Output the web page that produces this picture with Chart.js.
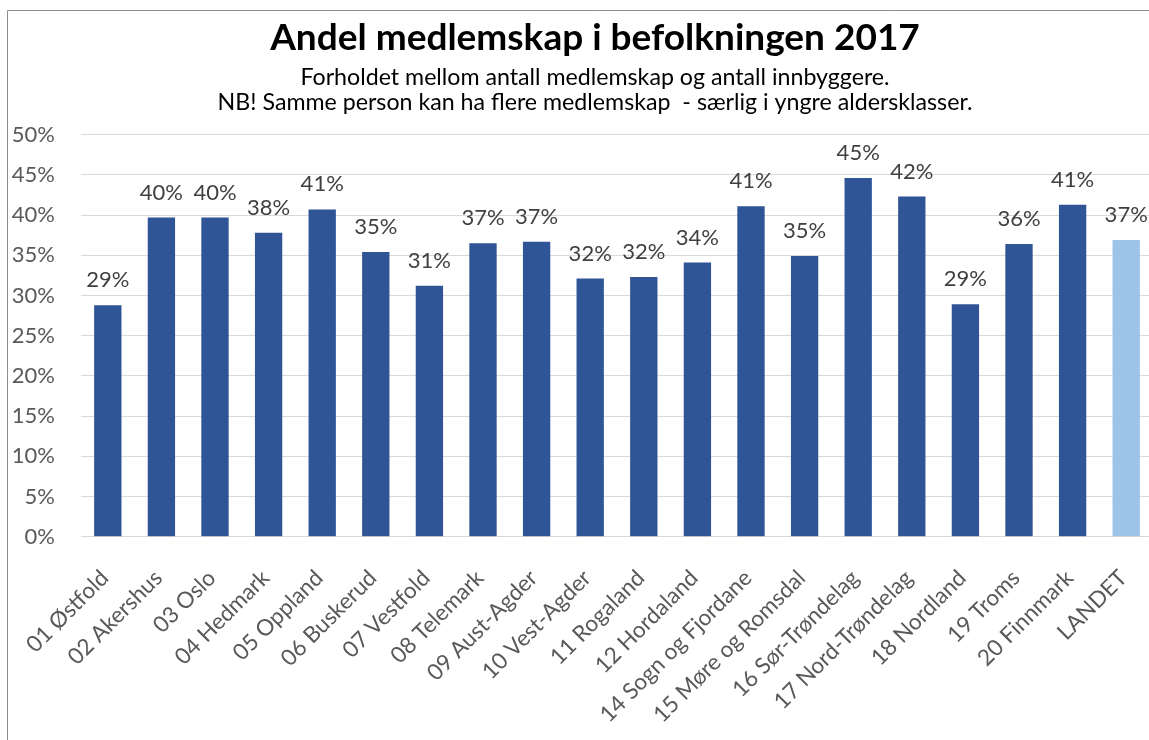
<!DOCTYPE html>
<html><head><meta charset="utf-8">
<script src="https://cdn.jsdelivr.net/npm/chart.js@4.4.1/dist/chart.umd.min.js"></script>
<style>
html,body{margin:0;padding:0;overflow:hidden;background:#fff}
#wrap{position:relative;width:1190px;height:740px}
</style>
</head><body>
<div id="wrap"><canvas id="c"></canvas></div>
<script>
const categories = ["01 Østfold","02 Akershus","03 Oslo","04 Hedmark","05 Oppland","06 Buskerud","07 Vestfold","08 Telemark","09 Aust-Agder","10 Vest-Agder","11 Rogaland","12 Hordaland","14 Sogn og Fjordane","15 Møre og Romsdal","16 Sør-Trøndelag","17 Nord-Trøndelag","18 Nordland","19 Troms","20 Finnmark","LANDET"];
const values = [28.8,39.7,39.7,37.8,40.7,35.4,31.2,36.5,36.7,32.1,32.3,34.1,41.1,34.9,44.6,42.3,28.9,36.4,41.3,36.9];
const yTickValues = [0,5,10,15,20,25,30,35,40,45,50];
const titleText = "Andel medlemskap i befolkningen 2017";
const subtitleLines = ["Forholdet mellom antall medlemskap og antall innbyggere.","NB! Samme person kan ha flere medlemskap  - særlig i yngre aldersklasser."];

const FONT = "Lato, 'Open Sans', sans-serif";
const barColors = categories.map(c => c === "LANDET" ? "#9DC3E6" : "#2F5597");

const framePlugin = {
  id: 'frame',
  beforeDraw(chart) {
    const ctx = chart.ctx;
    ctx.save();
    ctx.strokeStyle = '#8c8c8c';
    ctx.lineWidth = 1;
    ctx.beginPath();
    ctx.moveTo(7.5, chart.height);
    ctx.lineTo(7.5, 10.5);
    ctx.lineTo(chart.width, 10.5);
    ctx.stroke();
    ctx.restore();
  }
};

const labelPlugin = {
  id: 'barLabels',
  afterDatasetsDraw(chart) {
    const ctx = chart.ctx;
    const meta = chart.getDatasetMeta(0);
    ctx.save();
    ctx.font = "22px " + FONT;
    ctx.fillStyle = '#404040';
    ctx.textAlign = 'center';
    ctx.textBaseline = 'alphabetic';
    meta.data.forEach((bar, i) => {
      ctx.fillText(Math.round(values[i]) + '%', bar.x, bar.y - 18);
    });
    ctx.restore();
  }
};

new Chart(document.getElementById('c'), {
  type: 'bar',
  data: {
    labels: categories,
    datasets: [{
      data: values,
      backgroundColor: barColors,
      borderWidth: 0,
      barPercentage: 0.51,
      categoryPercentage: 1
    }]
  },
  options: {
    responsive: true,
    maintainAspectRatio: false,
    animation: false,
    layout: { padding: { top: 0, left: 0, right: 0, bottom: 0 } },
    plugins: {
      legend: { display: false },
      tooltip: { enabled: false },
      title: {
        display: true,
        text: titleText,
        color: '#000',
        font: { family: FONT, size: 37, weight: 'bold', lineHeight: 1.2 },
        padding: { top: 16, bottom: 0 }
      },
      subtitle: {
        display: true,
        text: subtitleLines,
        color: '#000',
        font: { family: FONT, size: 23.2, lineHeight: 25/23.2 },
        padding: { top: 4.3, bottom: 20.0 }
      }
    },
    scales: {
      x: {
        grid: { display: false },
        border: { display: false },
        ticks: {
          autoSkip: false, minRotation: 45, maxRotation: 45, padding: 20, labelOffset: -3,
          color: '#595959', font: { family: FONT, size: 22.5 }
        },
        afterFit(scale) { scale.height = 203.3; scale.paddingLeft = 0; scale.paddingRight = 37; }
      },
      y: {
        min: 0, max: 50,
        afterBuildTicks(scale) { scale.ticks = yTickValues.map(v => ({ value: v })); },
        grid: { color: '#D9D9D9', drawTicks: false, lineWidth: 1 },
        border: { display: false },
        ticks: {
          padding: 26, color: '#595959', font: { family: FONT, size: 22 },
          callback: v => v + '%'
        },
        afterFit(scale) { scale.width = 81; scale.paddingTop = 0; scale.paddingBottom = 0; }
      }
    }
  },
  plugins: [framePlugin, labelPlugin]
});
</script>
</body></html>
